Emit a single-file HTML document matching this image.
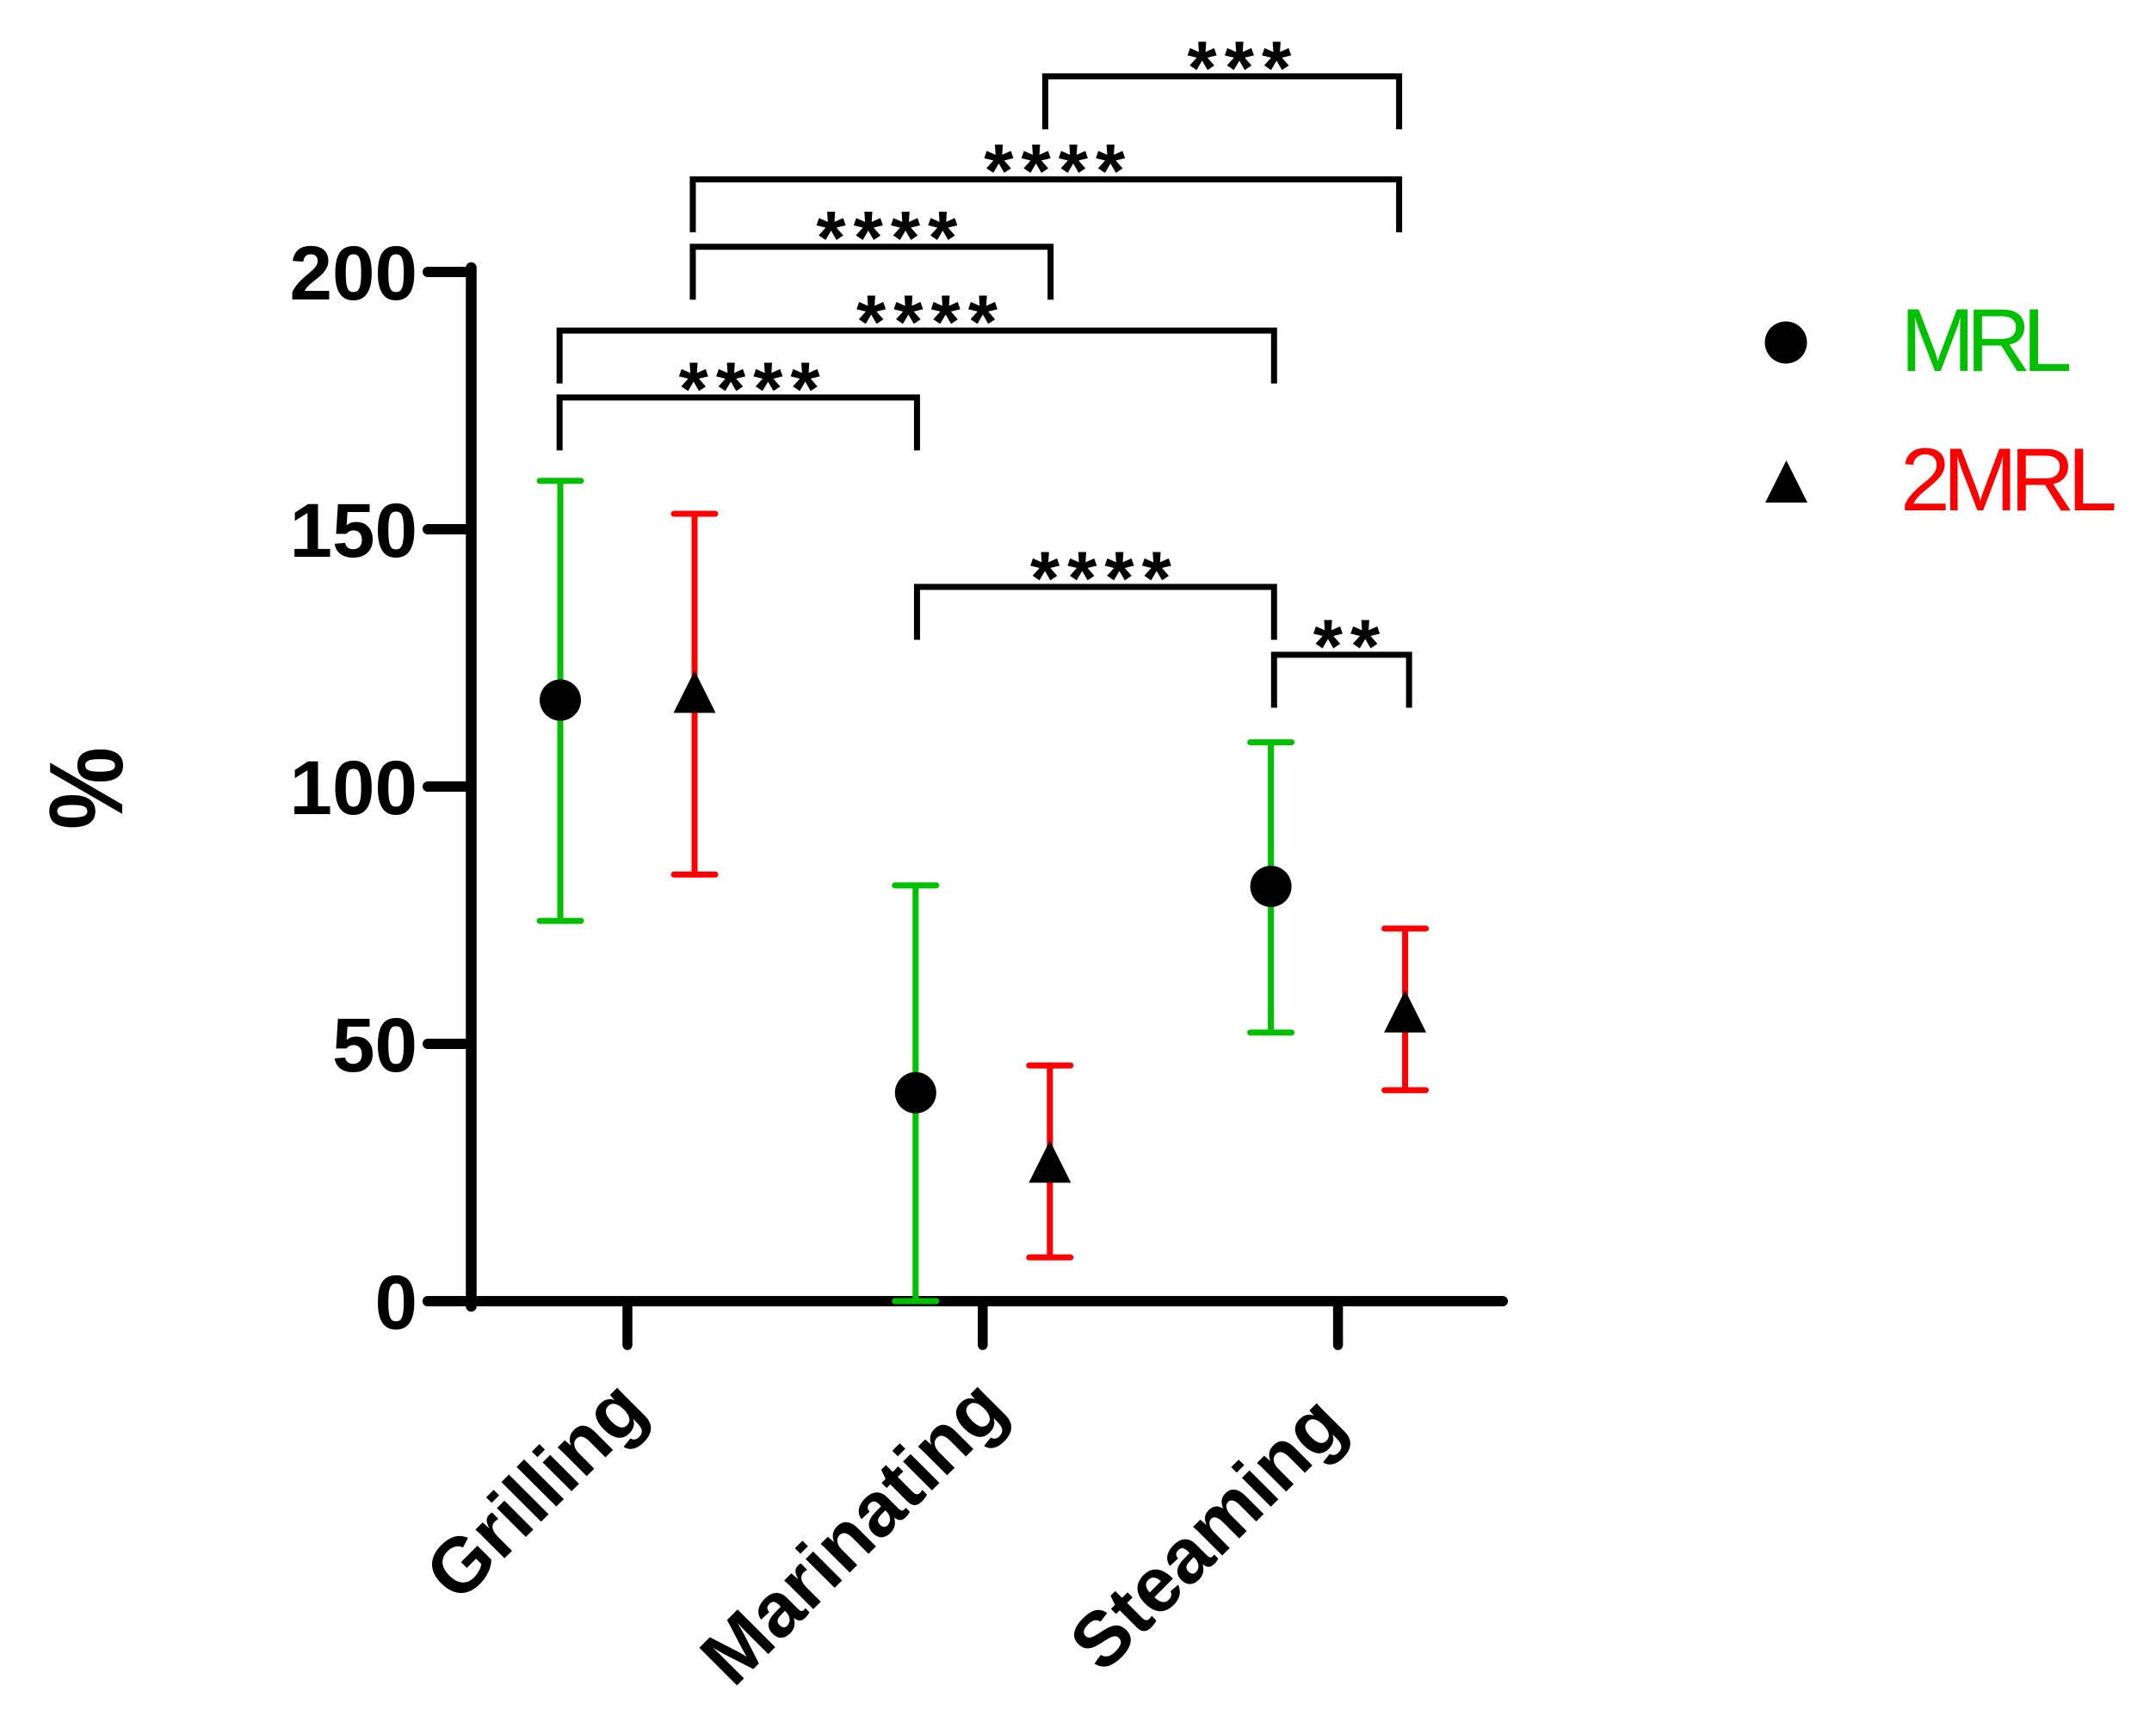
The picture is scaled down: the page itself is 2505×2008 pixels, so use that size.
<!DOCTYPE html>
<html>
<head>
<meta charset="utf-8">
<title>Recovery by cooking method</title>
<style>
html,body{margin:0;padding:0;background:#fff;}
svg{display:block;}
text{font-family:"Liberation Sans",Arial,sans-serif;}
</style>
</head>
<body>
<svg id="chart" xmlns="http://www.w3.org/2000/svg" width="2505" height="2008" viewBox="0 0 2505 2008"></svg>
<script>
const categories = ['Grilling', 'Marinating', 'Steaming'];
const yTicks = [0, 50, 100, 150, 200];
const mrlMean = [116.8, 40.5, 80.6];
const mrlUpper = [159.4, 80.8, 108.6];
const mrlLower = [73.9, 0, 52.2];
const twoMrlMean = [118, 26.7, 55.9];
const twoMrlUpper = [153, 45.8, 72.4];
const twoMrlLower = [82.9, 8.5, 41];
const bracketStart = [1.176, 0.184, 0.184, -0.191, -0.191, 0.815, 1.82];
const bracketEnd = [2.172, 2.172, 1.191, 1.82, 0.815, 1.82, 2.2];
const bracketLevel = [238, 218, 204.9, 188.6, 175.6, 138.8, 125.6];
const bracketStars = ['***', '****', '****', '****', '****', '****', '**'];
const starCenter = [1.733, 1.213, 0.741, 0.854, 0.354, 1.343, 2.035];

const NS = 'http://www.w3.org/2000/svg';
const svg = document.getElementById('chart');
const xCat = c => 729 + c * 412.8;
const yVal = v => 1512 - v * 5.98;
const BLACK = '#000000';
const GREEN = '#00c000';
const RED = '#ff0000';

function mk(tag, attrs, text) {
  const el = document.createElementNS(NS, tag);
  for (const k in attrs) el.setAttribute(k, attrs[k]);
  if (text !== undefined) el.textContent = text;
  svg.appendChild(el);
  return el;
}
function seg(x1, y1, x2, y2, color, w) {
  return mk('line', {x1, y1, x2, y2, stroke: color, 'stroke-width': w, 'stroke-linecap': 'round'});
}
function tri(cx, cy) {
  return mk('polygon', {points: `${cx - 24.5},${cy + 22} ${cx + 24.5},${cy + 22} ${cx},${cy - 27}`, fill: BLACK});
}
let el;

/* axes */
el = seg(547.5, 311, 547.5, 1518, BLACK, 12.5);


el = seg(497, yVal(0), 1746, yVal(0), BLACK, 12);



const labelNudgeX = [26, 32, 13];
const labelNudgeY = [1642, 1641, 1660];
yTicks.forEach(t => {
  el = seg(497, yVal(t), 547, yVal(t), BLACK, 12);
  
  
  el = mk('text', {x: 485, y: yVal(t) + 32, 'text-anchor': 'end', 'font-size': 89, 'font-weight': 'bold', fill: BLACK}, String(t));
  
  
});

categories.forEach((name, i) => {
  const x = xCat(i);
  el = seg(x, yVal(0), x, 1563, BLACK, 11.5);
  
  
  const lx = x + labelNudgeX[i];
  const ly = labelNudgeY[i];
  el = mk('text', {x: lx, y: ly, 'text-anchor': 'end', 'font-size': 90, 'font-weight': 'bold', fill: BLACK, transform: `rotate(-45 ${lx} ${ly})`}, name);
  
  
});

el = mk('text', {x: 0, y: 0, 'text-anchor': 'middle', 'font-size': 108, 'font-weight': 'bold', fill: BLACK, transform: 'translate(142 916) rotate(-90) scale(1 1.13)'}, '%');



/* error bars + markers */
function errorBar(x, hi, lo, color, key) {
  el = seg(x, yVal(hi), x, yVal(lo), color, 7);
  
  
  el = seg(x - 24, yVal(hi), x + 24, yVal(hi), color, 7);
  
  
  el = seg(x - 24, yVal(lo), x + 24, yVal(lo), color, 7);
  
  
}
categories.forEach((name, i) => {
  const key = name.toLowerCase();
  const x1 = xCat(i) - 78;
  const x2 = xCat(i) + 78;
  errorBar(x1, mrlUpper[i], mrlLower[i], GREEN, 'mrl-' + key);
  el = mk('circle', {cx: x1, cy: yVal(mrlMean[i]), r: 24, fill: BLACK});
  
  
  errorBar(x2, twoMrlUpper[i], twoMrlLower[i], RED, '2mrl-' + key);
  el = tri(x2, yVal(twoMrlMean[i]));
  
  
});

/* significance brackets */
bracketLevel.forEach((lv, i) => {
  const xa = xCat(bracketStart[i]);
  const xb = xCat(bracketEnd[i]);
  const y = yVal(lv);
  el = mk('path', {d: `M${xa} ${y + 61.5}V${y}H${xb}V${y + 61.5}`, fill: 'none', stroke: BLACK, 'stroke-width': 7, 'stroke-linejoin': 'miter'});
  
  
  el = mk('text', {x: xCat(starCenter[i]), y: y - 44 + 64, 'text-anchor': 'middle', 'font-size': 88, 'font-weight': 'bold', 'letter-spacing': 9, fill: BLACK}, bracketStars[i]);
  
  
});

/* legend */
el = mk('circle', {cx: 2075, cy: 398, r: 24.5, fill: BLACK});


el = mk('text', {x: 2208, y: 431, 'font-size': 104, 'letter-spacing': -10, fill: GREEN}, 'MRL');


el = mk('polygon', {points: '2051,584 2100,584 2075.5,535', fill: BLACK});


el = mk('text', {x: 2208, y: 593, 'font-size': 104, 'letter-spacing': -8.5, fill: RED}, '2MRL');


</script>
</body>
</html>
